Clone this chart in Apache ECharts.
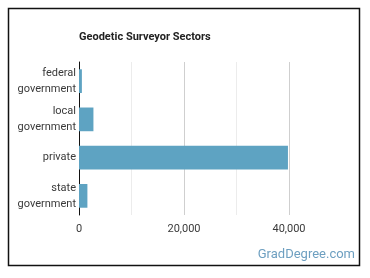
<!DOCTYPE html>
<html lang="en">
<head>
<meta charset="UTF-8">
<title>Geodetic Surveyor Sectors</title>
<style>
    body { margin: 0; padding: 0; background: #fff; }
    #chart { width: 370px; height: 278px; }
</style>
</head>
<body>
<script src="https://cdn.jsdelivr.net/npm/echarts@6/dist/echarts.min.js"></script>
<div id="chart"></div>
<script>
// data
var sectors = ['federal\ngovernment', 'local\ngovernment', 'private', 'state\ngovernment'];
var workers = [550, 2750, 39800, 1600];
var tickLabels = [0, 20000, 40000];

var myChart = echarts.init(document.getElementById('chart'));

var option = {
    animation: false,
    textStyle: { fontFamily: 'Roboto' },
    title: {
        text: 'Geodetic Surveyor Sectors',
        left: 74,
        top: 27,
        textStyle: { fontSize: 11, fontWeight: 'bold', color: '#222', fontFamily: 'Roboto' }
    },
    grid: { left: 79, right: 81, top: 62, bottom: 63, containLabel: false },
    xAxis: {
        type: 'value',
        min: 0,
        max: 40000,
        interval: 10000,
        axisLine: { show: false },
        axisTick: { show: false },
        splitLine: { lineStyle: { color: ['#cfcfcf', '#ececec'], width: 1 } },
        axisLabel: {
            color: '#3a3a3a',
            fontSize: 11,
            margin: 9,
            formatter: function (v) {
                return tickLabels.indexOf(v) >= 0 ? v.toLocaleString('en-US') : '';
            }
        }
    },
    yAxis: {
        type: 'category',
        inverse: true,
        data: sectors,
        axisLine: { lineStyle: { color: '#111', width: 1 } },
        axisTick: { show: false },
        axisLabel: { color: '#3a3a3a', fontSize: 11, lineHeight: 16, margin: 3, align: 'right' }
    },
    series: [{
        type: 'bar',
        data: workers,
        barCategoryGap: '38%',
        itemStyle: { color: '#5ea3c2' }
    }],
    graphic: [
        {
            type: 'rect',
            shape: { x: 8.5, y: 8.5, width: 351, height: 257 },
            style: { fill: 'none', stroke: '#111', lineWidth: 1.5 },
            silent: true
        },
        {
            type: 'text',
            right: 15,
            top: 248,
            style: { text: 'GradDegree.com', fill: '#6d9fc0', fontSize: 13, fontFamily: 'Roboto' }
        }
    ]
};

myChart.setOption(option);
</script>
</body>
</html>
